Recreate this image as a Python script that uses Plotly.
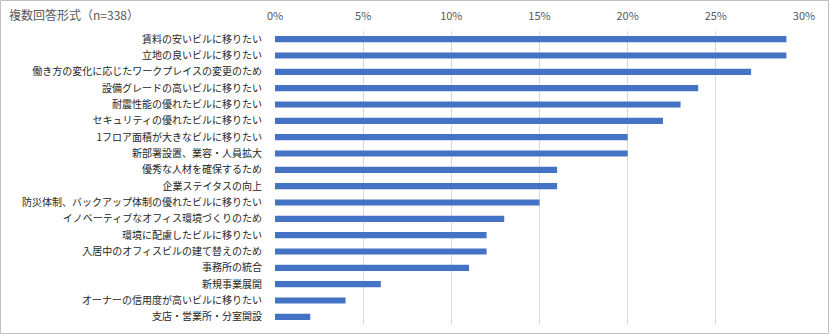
import plotly.graph_objects as go

# Reasons for relocation (multiple answers, n=338), share of respondents in %
reasons = [
    "賃料の安いビルに移りたい",
    "立地の良いビルに移りたい",
    "働き方の変化に応じたワークプレイスの変更のため",
    "設備グレードの高いビルに移りたい",
    "耐震性能の優れたビルに移りたい",
    "セキュリティの優れたビルに移りたい",
    "1フロア面積が大きなビルに移りたい",
    "新部署設置、業容・人員拡大",
    "優秀な人材を確保するため",
    "企業ステイタスの向上",
    "防災体制、バックアップ体制の優れたビルに移りたい",
    "イノベーティブなオフィス環境づくりのため",
    "環境に配慮したビルに移りたい",
    "入居中のオフィスビルの建て替えのため",
    "事務所の統合",
    "新規事業展開",
    "オーナーの信用度が高いビルに移りたい",
    "支店・営業所・分室開設",
]
shares = [29, 29, 27, 24, 23, 22, 20, 20, 16, 16, 15, 13, 12, 12, 11, 6, 4, 2]
tick_vals = [0, 5, 10, 15, 20, 25, 30]
tick_text = ["0%", "5%", "10%", "15%", "20%", "25%", "30%"]
title_text = "複数回答形式（n=338）"

FONT = "Noto Sans CJK JP"
W, H = 830, 335
ML, MR, MT, MB = 275, 26, 31, 10

fig = go.Figure(
    go.Bar(
        x=shares,
        y=reasons,
        orientation="h",
        marker=dict(color="#4472C4", line=dict(width=0)),
        hoverinfo="x+y",
    )
)

pw = W - ML - MR
ph = H - MT - MB

fig.update_layout(
    width=W,
    height=H,
    margin=dict(l=ML, r=MR, t=MT, b=MB, autoexpand=False),
    paper_bgcolor="white",
    plot_bgcolor="white",
    bargap=0.62,
    showlegend=False,
    font=dict(family=FONT, size=10, color="#262626"),
    xaxis=dict(
        side="top",
        range=[0, 30],
        tickvals=tick_vals,
        ticktext=tick_text,
        showgrid=True,
        gridcolor="#D9D9D9",
        gridwidth=1,
        zeroline=False,
        showline=False,
        ticks="outside",
        ticklen=6,
        tickcolor="rgba(0,0,0,0)",
        tickfont=dict(family=FONT, size=11, color="#595959"),
        automargin=False,
        fixedrange=True,
    ),
    yaxis=dict(
        autorange="reversed",
        showgrid=False,
        zeroline=False,
        showline=False,
        ticks="outside",
        ticklen=10,
        tickcolor="rgba(0,0,0,0)",
        tickfont=dict(family=FONT, size=10, color="#262626"),
        automargin=False,
        fixedrange=True,
    ),
    annotations=[
        dict(
            text=title_text,
            xref="paper",
            yref="paper",
            x=-(ML - 7) / pw,
            y=1 + (MT - 4) / ph,
            xanchor="left",
            yanchor="top",
            showarrow=False,
            font=dict(family=FONT, size=12, color="#595959"),
        )
    ],
    shapes=[
        dict(
            type="rect",
            xref="paper",
            yref="paper",
            x0=-(ML - 0.5) / pw,
            x1=1 + (MR - 1.5) / pw,
            y0=-(MB - 1.5) / ph,
            y1=1 + (MT - 0.5) / ph,
            line=dict(color="#BFBFBF", width=1),
            layer="below",
        )
    ],
)

fig.write_html("out.html")
